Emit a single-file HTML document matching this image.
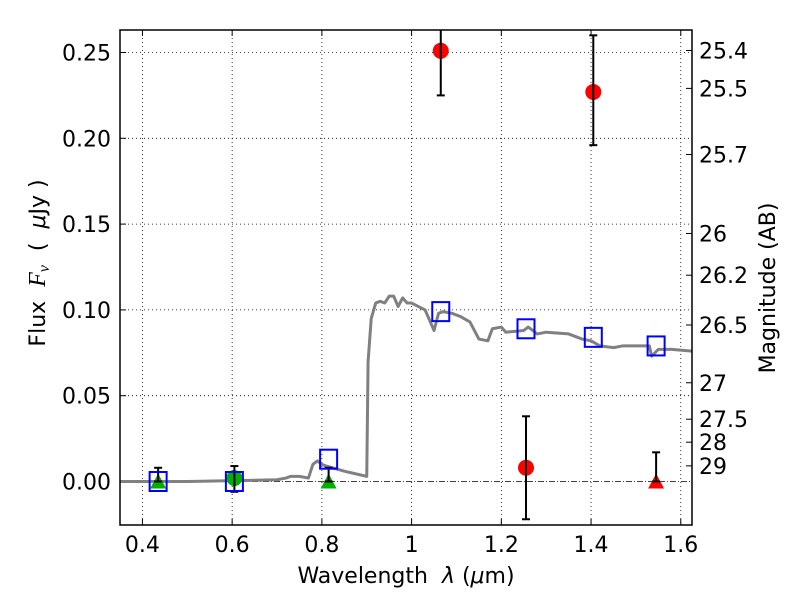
<!DOCTYPE html>
<html><head><meta charset="utf-8"><style>
body{margin:0;background:#fff;}
svg{display:block;font-family:"DejaVu Sans","Liberation Sans",sans-serif;}
</style></head><body>
<svg id="chart" width="800" height="600"></svg>
<script>
const xTicks=[0.4,0.6,0.8,1.0,1.2,1.4,1.6];
const xTickLabels=["0.4","0.6","0.8","1","1.2","1.4","1.6"];
const yTicks=[0,0.05,0.10,0.15,0.20,0.25];
const yTickLabels=["0.00","0.05","0.10","0.15","0.20","0.25"];
const magTicks=[25.4,25.5,25.7,26,26.2,26.5,27,27.5,28,29];
const sedX=[0.35,0.5,0.7,0.72,0.73,0.75,0.77,0.78,0.79,0.80,0.81,0.85,0.9,0.903,0.91,0.92,0.93,0.94,0.95,0.96,0.97,0.98,0.99,1.0,1.03,1.05,1.06,1.07,1.09,1.11,1.13,1.15,1.17,1.18,1.2,1.21,1.25,1.26,1.28,1.30,1.35,1.38,1.40,1.42,1.45,1.47,1.50,1.53,1.535,1.55,1.58,1.625];
const sedY=[0,0,0.001,0.002,0.003,0.003,0.002,0.010,0.012,0.010,0.009,0.006,0.003,0.07,0.095,0.104,0.105,0.104,0.108,0.108,0.102,0.107,0.104,0.104,0.100,0.088,0.098,0.099,0.098,0.096,0.093,0.083,0.082,0.089,0.090,0.087,0.088,0.090,0.086,0.087,0.086,0.083,0.082,0.079,0.078,0.079,0.079,0.079,0.073,0.077,0.077,0.076];
const sqX=[0.435,0.605,0.815,1.065,1.255,1.405,1.545];
const sqY=[0.0,0.0,0.013,0.099,0.089,0.084,0.079];
const redCX=[1.065,1.405,1.255];
const redCY=[0.251,0.227,0.008];
const redCLo=[0.225,0.196,-0.022];
const redCHi=[0.28,0.260,0.038];
const redTX=[1.545];const redTY=[0.0];const redTHi=[0.017];
const grTX=[0.435,0.815];const grTY=[0.0,0.0];const grTHi=[0.008,0.008];
const grCX=[0.605];const grCY=[0.002];const grCLo=[-0.006];const grCHi=[0.009];

const L=120,R=692,T=30,B=525;
const X=v=>L+(v-0.35)/(1.625-0.35)*(R-L);
const Y=v=>481.5-v*1716;
const svg=document.getElementById('chart');
const NS='http://www.w3.org/2000/svg';
function mk(tag,at,parent){const e=document.createElementNS(NS,tag);for(const k in at)e.setAttribute(k,at[k]);(parent||svg).appendChild(e);return e;}
const defs=mk('defs',{});const cp=mk('clipPath',{id:'cp'},defs);mk('rect',{x:L,y:T,width:R-L,height:B-T},cp);

xTicks.forEach((t,i)=>{
 const g=mk('line',{x1:X(t),x2:X(t),y1:T,y2:B,stroke:'#000','stroke-width':0.8,'stroke-dasharray':'1,3'});
 
 const tk=mk('line',{x1:X(t),x2:X(t),y1:B,y2:B-6,stroke:'#000'});
 
 mk('line',{x1:X(t),x2:X(t),y1:T,y2:T+6,stroke:'#000'});
 const tx=mk('text',{x:X(t),y:B+27,'font-size':22,'text-anchor':'middle'});tx.textContent=xTickLabels[i];
 
});
yTicks.forEach((t,i)=>{
 if(t!==0){const g=mk('line',{x1:L,x2:R,y1:Y(t),y2:Y(t),stroke:'#000','stroke-width':0.8,'stroke-dasharray':'1,3'});
 }
 const tk=mk('line',{x1:L,x2:L+6,y1:Y(t),y2:Y(t),stroke:'#000'});
 
 const tx=mk('text',{x:L-9,y:Y(t)+8,'font-size':22,'text-anchor':'end'});tx.textContent=yTickLabels[i];
 
});
const zl=mk('line',{x1:L,x2:R,y1:Y(0),y2:Y(0),stroke:'#000','stroke-width':0.8,'stroke-dasharray':'6,2,1,2'});

magTicks.forEach(m=>{
 const f=Math.pow(10,(23.9-m)/2.5);
 const tk=mk('line',{x1:R,x2:R-6,y1:Y(f),y2:Y(f),stroke:'#000'});
 
 const tx=mk('text',{x:R+7,y:Y(f)+8,'font-size':22});tx.textContent=String(m);
 
});
const gp=mk('g',{'clip-path':'url(#cp)'});
const sed=mk('polyline',{points:sedX.map((x,i)=>X(x)+','+Y(sedY[i])).join(' '),fill:'none',stroke:'#808080','stroke-width':3,'stroke-linejoin':'round'},gp);

function err(x,lo,hi){
 const e=mk('g',{stroke:'#000','stroke-width':2},gp);
 
 mk('line',{x1:X(x),x2:X(x),y1:Y(lo),y2:Y(hi)},e);
 mk('line',{x1:X(x)-4,x2:X(x)+4,y1:Y(lo),y2:Y(lo)},e);
 mk('line',{x1:X(x)-4,x2:X(x)+4,y1:Y(hi),y2:Y(hi)},e);
}
function tri(x,y,c){const px=X(x),py=Y(y);
 const t=mk('polygon',{points:`${px},${py-8} ${px-8},${py+7} ${px+8},${py+7}`,fill:c},gp);
 }
grTX.forEach((x,i)=>{tri(x,grTY[i],'#00b000');});
grCX.forEach((x,i)=>{const c=mk('circle',{cx:X(x),cy:Y(grCY[i]),r:8,fill:'#00b000'},gp);
 });
redTX.forEach((x,i)=>{tri(x,redTY[i],'#ff0000');});
redCX.forEach((x,i)=>{const c=mk('circle',{cx:X(x),cy:Y(redCY[i]),r:8,fill:'#ff0000'},gp);
 });
grTX.forEach((x,i)=>err(x,grTY[i],grTHi[i]));
grCX.forEach((x,i)=>err(x,grCLo[i],grCHi[i]));
redTX.forEach((x,i)=>err(x,redTY[i],redTHi[i]));
redCX.forEach((x,i)=>err(x,redCLo[i],redCHi[i]));
sqX.forEach((x,i)=>{const s=mk('rect',{x:X(x)-8.5,y:Y(sqY[i])-9.5,width:17,height:19,fill:'none',stroke:'#0000ff','stroke-width':2},gp);
 });
const fr=mk('rect',{x:L,y:T,width:R-L,height:B-T,fill:'none',stroke:'#000','stroke-width':1.5});

const xl=mk('text',{x:406,y:583,'font-size':22,'text-anchor':'middle'});
xl.innerHTML='Wavelength\u00a0\u00a0<tspan font-style="italic">λ</tspan> (<tspan font-style="italic">μ</tspan>m)';

const yl=mk('text',{x:0,y:0,'font-size':22,'text-anchor':'middle',transform:'translate(45,263) rotate(-90)'});
yl.innerHTML='Flux\u00a0\u00a0<tspan font-style="italic" font-family="Liberation Serif" font-size="24">F<tspan font-size="16" dy="4">ν</tspan></tspan><tspan dy="-4">\u00a0\u00a0(\u00a0\u00a0</tspan><tspan font-style="italic">μ</tspan>Jy )';

const rl=mk('text',{x:0,y:0,'font-size':22,'text-anchor':'middle',transform:'translate(775,288) rotate(-90)'});
rl.textContent='Magnitude (AB)';

</script>
</body></html>
